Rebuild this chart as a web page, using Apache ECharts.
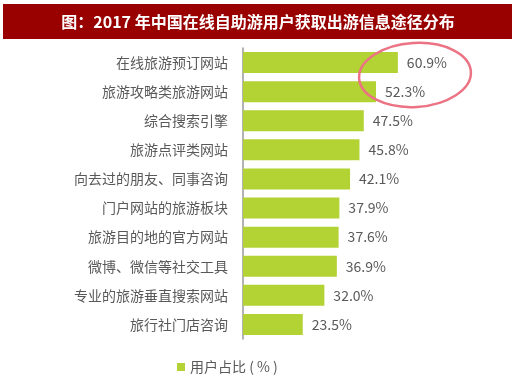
<!DOCTYPE html>
<html><head><meta charset="utf-8">
<script src="https://cdn.jsdelivr.net/npm/echarts@6/dist/echarts.min.js"></script>
<style>html,body{margin:0;padding:0;background:#fff}#c{width:515px;height:388px}</style>
</head><body><div id="c"></div>
<script>
const categories = ['在线旅游预订网站','旅游攻略类旅游网站','综合搜索引擎','旅游点评类网站','向去过的朋友、同事咨询','门户网站的旅游板块','旅游目的地的官方网站','微博、微信等社交工具','专业的旅游垂直搜索网站','旅行社门店咨询'];
const values = [60.9,52.3,47.5,45.8,42.1,37.9,37.6,36.9,32.0,23.5];
const seriesName = '用户占比 ( % )';
const titleText = '图：2017 年中国在线自助游用户获取出游信息途径分布';

const chart = echarts.init(document.getElementById('c'));
chart.setOption({
  animation:false,
  textStyle:{fontFamily:'"Noto Sans CJK SC", sans-serif'},
  graphic:[
    {type:'rect',shape:{x:3,y:4,width:509,height:35},style:{fill:'#990000'},z:0},
    {type:'text',x:258,y:21.5,style:{text:titleText,fill:'#fff',font:'bold 16px "Noto Sans CJK SC", serif',align:'center',verticalAlign:'middle'},z:1},
    {type:'ellipse',shape:{cx:415,cy:75,rx:56,ry:32},rotation:0.06,originX:415,originY:75,style:{fill:'none',stroke:'#ec7384',lineWidth:2.5},z:10}
  ],
  legend:{
    data:[seriesName],left:172,top:355,icon:'rect',itemWidth:8,itemHeight:8,itemGap:5,
    textStyle:{color:'#595959',fontSize:14}
  },
  grid:{left:243,top:48,width:178,height:291,containLabel:false},
  xAxis:{type:'value',min:0,max:70,show:false},
  yAxis:{type:'category',data:categories,inverse:true,
    axisLine:{lineStyle:{color:'#999',width:1.5}},axisTick:{show:false},
    axisLabel:{color:'#595959',fontSize:14,margin:15}},
  series:[{name:seriesName,type:'bar',data:values,barCategoryGap:'28%',
    itemStyle:{color:'#b3d234'},
    label:{show:true,position:'right',distance:9,color:'#595959',fontSize:14,formatter:p=>p.value.toFixed(1)+'%'}}]
});
</script></body></html>
